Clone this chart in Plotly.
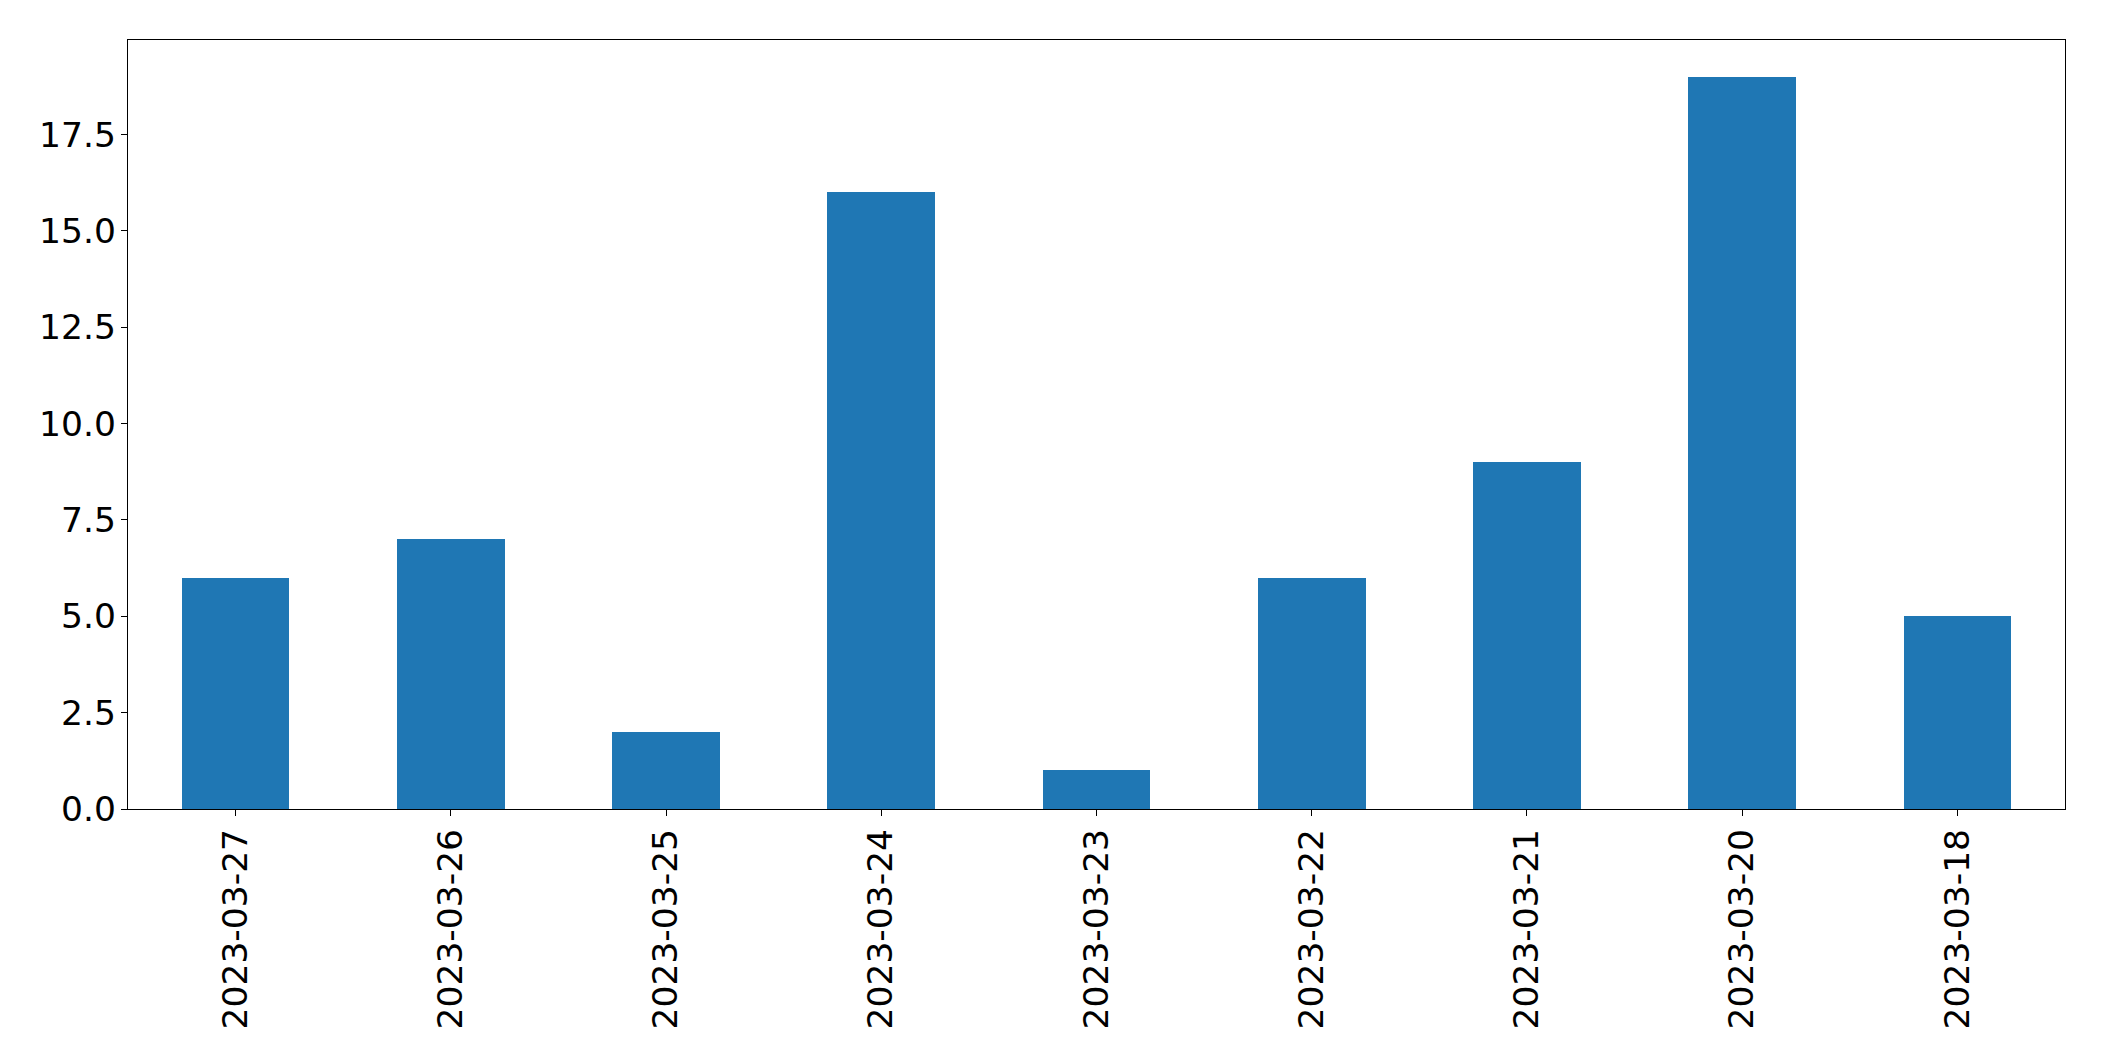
import plotly.graph_objects as go

dates = ["2023-03-27", "2023-03-26", "2023-03-25", "2023-03-24", "2023-03-23",
         "2023-03-22", "2023-03-21", "2023-03-20", "2023-03-18"]
counts = [6, 7, 2, 16, 1, 6, 9, 19, 5]
y_ticks = [0, 2.5, 5, 7.5, 10, 12.5, 15, 17.5]

fig = go.Figure()
fig.add_trace(go.Bar(x=dates, y=counts, width=0.5, marker=dict(color="#1f77b4", line=dict(width=0))))

font = dict(family="DejaVu Sans", size=34.5, color="black")
fig.update_layout(
    width=2104, height=1061,
    margin=dict(l=119.5, r=47, t=31.5, b=260, autoexpand=False),
    plot_bgcolor="white", paper_bgcolor="white",
    showlegend=False, bargap=0,
    font=font,
)
fig.update_xaxes(
    type="category", range=[-0.5, len(dates) - 0.5],
    tickangle=-90, ticks="outside", ticklen=6, tickwidth=1.3, tickcolor="black",
    showline=True, linecolor="black", linewidth=1.3, mirror=True,
    showgrid=False, zeroline=False, tickfont=font, ticklabelstandoff=-1,
)
fig.update_yaxes(
    range=[0, 19.95], tickvals=y_ticks, ticktext=[f"{v:.1f}" for v in y_ticks],
    ticks="outside", ticklen=6, tickwidth=1.3, tickcolor="black",
    showline=True, linecolor="black", linewidth=1.3, mirror=True,
    showgrid=False, zeroline=False, tickfont=font, ticklabelstandoff=-2,
)
fig.write_html("out.html")
